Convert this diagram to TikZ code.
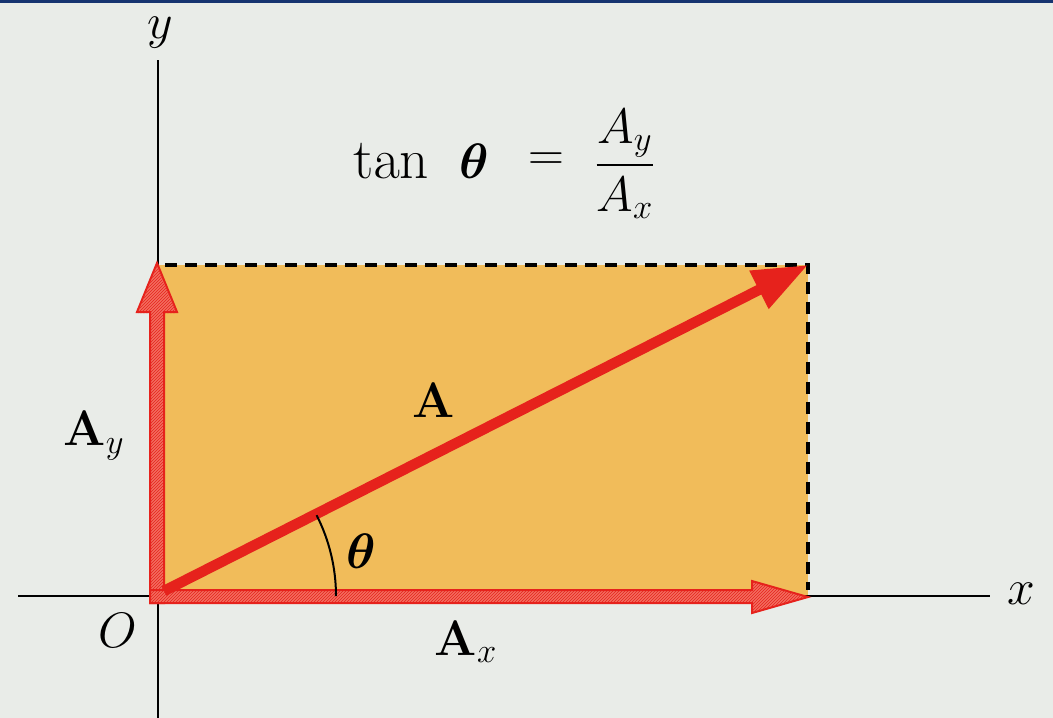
\documentclass[tikz,border=0pt]{standalone}
\usepackage{graphicx}
\usepackage{amsmath}
\usetikzlibrary{arrows.meta,patterns,calc}
\definecolor{bgc}{RGB}{233,236,232}
\definecolor{rectc}{RGB}{241,188,90}
\definecolor{vred}{RGB}{230,34,28}
\definecolor{lred}{RGB}{243,110,95}
\definecolor{topblue}{RGB}{22,52,112}
\newcommand{\dblsz}[1]{\scalebox{2}{#1}}
\newcommand{\tansz}[1]{\scalebox{2.3}{#1}}
\tikzset{
  lbl/.style={font=\fontsize{24}{28}\selectfont, inner sep=0pt},
  axisline/.style={line width=2.5pt, black},
  dashline/.style={line width=3.5pt, black, dash pattern=on 12pt off 8pt},
  fatarrow/.style={fill=lred, draw=vred, line width=2pt, line join=miter},
  hatch/.style={pattern=north east lines, pattern color=vred},
  vecA/.style={line width=10.5pt, vred, -{Triangle[length=55pt,width=40pt]}},
  anglearc/.style={line width=2pt, black}
}
\begin{document}
\begin{tikzpicture}[x=1pt,y=-1pt]
\useasboundingbox (0,0) rectangle (1053,718);
\fill[bgc] (0,0) rectangle (1053,718);
\fill[topblue] (0,0) rectangle (1053,3);
% named points
\coordinate (O) at (158,596);
\coordinate (Tip) at (808,265);
\coordinate (TL) at (158,265);
\coordinate (BR) at (808,596);
\coordinate (yTop) at (158,60);
\coordinate (yBot) at (158,718);
\coordinate (xLeft) at (18,596);
\coordinate (xRight) at (990,596);
% rectangle
\fill[rectc] (TL) rectangle (BR);
% axes
\draw[axisline] (yTop) -- (yBot);
\draw[axisline] (xLeft) -- (xRight);
% dashed edges
\draw[dashline] (165,265) -- (Tip) -- (808,590);
% Ay arrow
\path[fatarrow] (150,603) -- (150,312) -- (137,312) -- (157,263) -- (177,312) -- (164,312) -- (164,603) -- cycle;
\path[hatch] (151,602) -- (151,313) -- (138,313) -- (157,266) -- (176,313) -- (163,313) -- (163,602) -- cycle;
% Ax arrow
\path[fatarrow] (150,590) -- (752,590) -- (752,581) -- (808,597) -- (752,613) -- (752,603) -- (150,603) -- cycle;
\path[hatch] (151,591) -- (753,591) -- (753,582) -- (805,597) -- (753,612) -- (753,602) -- (151,602) -- cycle;
% A vector
\draw[vecA] (164,591) -- (Tip);
% angle arc
\draw[anglearc] ($(O)+(178,0)$) arc[start angle=0, end angle=-27, radius=178];
% labels
\node[lbl] (ylab) at (160,33) {\dblsz{$y$}};
\node[lbl] (xlab) at (1021,594) {\dblsz{$x$}};
\node[lbl] (olab) at (118,630) {\dblsz{$O$}};
\node[lbl] (thlab) at (361,551) {\dblsz{$\boldsymbol{\theta}$}};
\node[lbl] (Alab) at (434,400) {\dblsz{$\mathbf{A}$}};
\node[lbl] (Aylab) at (94,436) {\dblsz{$\mathbf{A}_y$}};
\node[lbl] (Axlab) at (466,642) {\dblsz{$\mathbf{A}_x$}};
% equation
\node[lbl, anchor=base] (eqtan) at (391,178) {\tansz{$\mathrm{tan}$}};
\node[lbl, anchor=base] (eqth) at (474,178) {\dblsz{$\boldsymbol{\theta}$}};
\node[lbl] (eqeq) at (546,162) {\dblsz{$=$}};
\node[lbl] (eqfrac) at (625,164) {\dblsz{$\dfrac{A_y}{A_x}$}};
\end{tikzpicture}
\end{document}
